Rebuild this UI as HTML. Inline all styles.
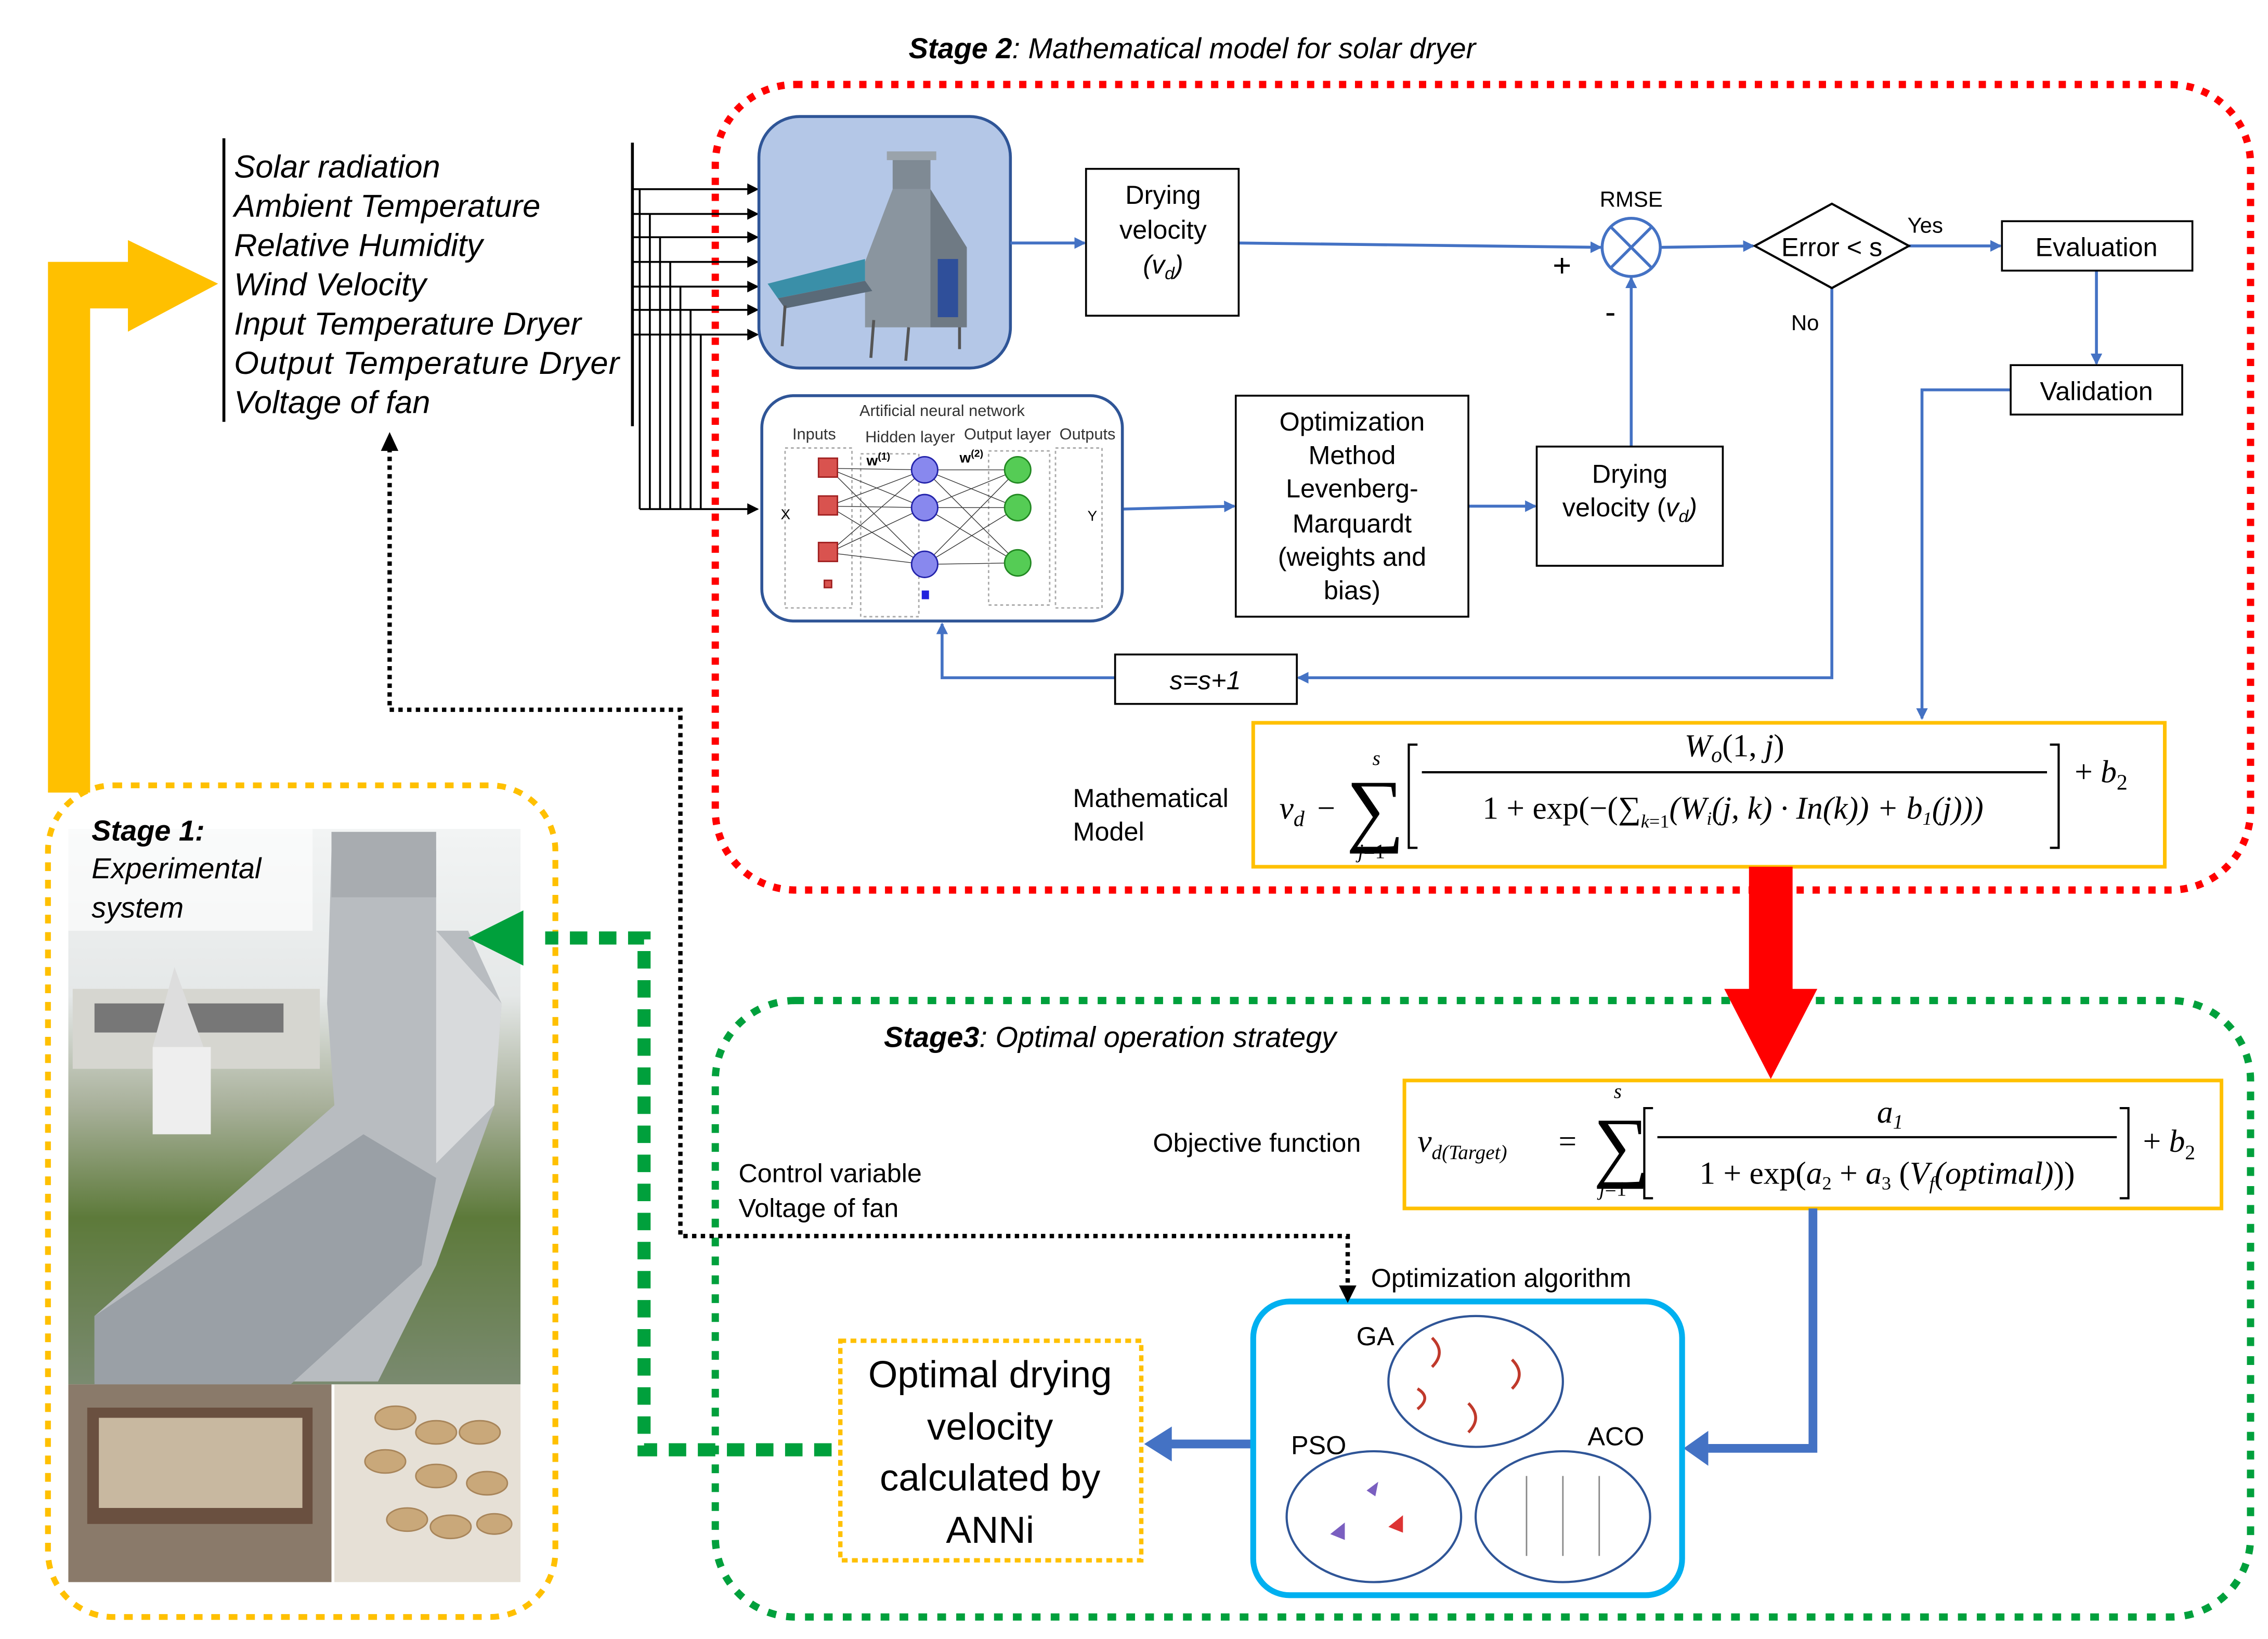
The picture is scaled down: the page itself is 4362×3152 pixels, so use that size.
<!DOCTYPE html>
<html><head><meta charset="utf-8"><style>html,body{margin:0;padding:0;background:#fff}svg{display:block}</style></head><body>
<svg width="4362" height="3152" viewBox="0 0 1560 1127" xmlns="http://www.w3.org/2000/svg" font-family="Liberation Sans, sans-serif">
<defs>
<marker id="ab" markerWidth="8" markerHeight="8" refX="7" refY="4" orient="auto" markerUnits="userSpaceOnUse"><path d="M0,0 L8,4 L0,8 z" fill="#4472c4"/></marker>
<marker id="ak" markerWidth="8" markerHeight="8" refX="7" refY="4" orient="auto" markerUnits="userSpaceOnUse"><path d="M0,0 L8,4 L0,8 z" fill="#000"/></marker>
<linearGradient id="sky" x1="0" y1="0" x2="0" y2="1"><stop offset="0" stop-color="#f2f4f4"/><stop offset="0.3" stop-color="#e5e8e8"/><stop offset="0.5" stop-color="#a8b09a"/><stop offset="0.7" stop-color="#5d7a3a"/><stop offset="1" stop-color="#7a8a70"/></linearGradient>
</defs>
<text x="625" y="40" font-size="20" font-style="italic"><tspan font-weight="bold">Stage 2</tspan>: Mathematical model for solar dryer</text>
<rect x="492" y="58" width="1056" height="554" rx="55" fill="none" stroke="#f00" stroke-width="5" stroke-dasharray="5,6"/>
<rect x="492" y="688" width="1056" height="424" rx="55" fill="none" stroke="#00a03c" stroke-width="5" stroke-dasharray="6,7"/>
<rect x="33" y="540" width="349" height="572" rx="45" fill="none" stroke="#ffc000" stroke-width="4" stroke-dasharray="6,6"/>
<path d="M33,545 L33,180 L88,180 L88,165 L150,195 L88,228 L88,212 L62,212 L62,545 z" fill="#ffc000"/>
<line x1="154" y1="95" x2="154" y2="290" stroke="#000" stroke-width="2"/>
<line x1="435" y1="98" x2="435" y2="293" stroke="#000" stroke-width="2"/>
<g font-size="22" font-style="italic">
<text x="161" y="122">Solar radiation</text>
<text x="161" y="149">Ambient Temperature</text>
<text x="161" y="176">Relative Humidity</text>
<text x="161" y="203">Wind Velocity</text>
<text x="161" y="230">Input Temperature Dryer</text>
<text x="161" y="257" textLength="265">Output Temperature Dryer</text>
<text x="161" y="284">Voltage of fan</text>
</g>
<g stroke="#000" stroke-width="1.3" fill="none">
<line x1="435" y1="130" x2="521" y2="130" marker-end="url(#ak)"/>
<line x1="435" y1="147" x2="521" y2="147" marker-end="url(#ak)"/>
<line x1="435" y1="163" x2="521" y2="163" marker-end="url(#ak)"/>
<line x1="435" y1="180" x2="521" y2="180" marker-end="url(#ak)"/>
<line x1="435" y1="197" x2="521" y2="197" marker-end="url(#ak)"/>
<line x1="435" y1="213" x2="521" y2="213" marker-end="url(#ak)"/>
<line x1="435" y1="230" x2="521" y2="230" marker-end="url(#ak)"/>
<path d="M440,130 V350 M447,147 V350 M454,163 V350 M461,180 V350 M468,197 V350 M475,213 V350 M482,230 V350"/>
<line x1="440" y1="350" x2="521" y2="350" marker-end="url(#ak)"/>
</g>
<rect x="522" y="80" width="173" height="173" rx="28" fill="#b4c7e7" stroke="#2f5597" stroke-width="2"/>
<g>
<rect x="614" y="108" width="26" height="22" fill="#7f8a94"/>
<rect x="610" y="104" width="34" height="6" fill="#9aa3ab"/>
<path d="M595,180 L614,130 L640,130 L665,170 L665,225 L595,225 z" fill="#8a959f"/>
<path d="M640,130 L665,170 L665,225 L640,225 z" fill="#6f7a84"/>
<rect x="645" y="178" width="14" height="40" fill="#2f4f9a"/>
<path d="M528,195 L595,178 L595,193 L535,205 z" fill="#3a8fa8"/>
<path d="M535,205 L595,193 L600,200 L540,212 z" fill="#5a6a78"/>
<line x1="540" y1="210" x2="538" y2="238" stroke="#555" stroke-width="2"/>
<line x1="601" y1="220" x2="599" y2="246" stroke="#555" stroke-width="2"/>
<line x1="625" y1="225" x2="623" y2="248" stroke="#555" stroke-width="2"/>
<line x1="660" y1="225" x2="660" y2="240" stroke="#555" stroke-width="2"/>
</g>
<g stroke="#4472c4" stroke-width="2" fill="none">
<line x1="695" y1="167" x2="746" y2="167" marker-end="url(#ab)"/>
<line x1="852" y1="167" x2="1101" y2="170" marker-end="url(#ab)"/>
<line x1="1142" y1="170" x2="1206" y2="169" marker-end="url(#ab)"/>
<line x1="1313" y1="169" x2="1376" y2="169" marker-end="url(#ab)"/>
<line x1="1442" y1="186" x2="1442" y2="250" marker-end="url(#ab)"/>
<path d="M1383,268 H1322 V494" marker-end="url(#ab)"/>
<path d="M1260,198 V466 H893" marker-end="url(#ab)"/>
<path d="M767,466 H648 V429" marker-end="url(#ab)"/>
<line x1="772" y1="350" x2="849" y2="348" marker-end="url(#ab)"/>
<line x1="1010" y1="348" x2="1056" y2="348" marker-end="url(#ab)"/>
<line x1="1122" y1="307" x2="1122" y2="191" marker-end="url(#ab)"/>
</g>
<rect x="747" y="116" width="105" height="101" fill="#fff" stroke="#000" stroke-width="1.3"/>
<g font-size="18" text-anchor="middle">
<text x="800" y="140">Drying</text><text x="800" y="164">velocity</text><text x="800" y="188" font-style="italic">(v<tspan font-size="12" dy="4">d</tspan><tspan dy="-4">)</tspan></text>
</g>
<circle cx="1122" cy="170" r="20" fill="#fff" stroke="#4472c4" stroke-width="2"/>
<path d="M1108,156 L1136,184 M1136,156 L1108,184" stroke="#4472c4" stroke-width="2"/>
<text x="1122" y="142" font-size="15" text-anchor="middle">RMSE</text>
<text x="1068" y="190" font-size="22">+</text>
<text x="1104" y="222" font-size="22">-</text>
<polygon points="1260,140 1313,169 1260,198 1207,169" fill="#fff" stroke="#000" stroke-width="1.5"/>
<text x="1260" y="176" font-size="18" text-anchor="middle">Error &lt; s</text>
<text x="1312" y="160" font-size="15">Yes</text>
<text x="1232" y="227" font-size="15">No</text>
<rect x="1377" y="152" width="131" height="34" fill="#fff" stroke="#000" stroke-width="1.3"/>
<text x="1442" y="176" font-size="18" text-anchor="middle">Evaluation</text>
<rect x="1383" y="251" width="118" height="34" fill="#fff" stroke="#000" stroke-width="1.3"/>
<text x="1442" y="275" font-size="18" text-anchor="middle">Validation</text>
<rect x="524" y="272" width="248" height="155" rx="22" fill="#fff" stroke="#2f5597" stroke-width="2"/>
<text x="648" y="286" font-size="11" text-anchor="middle" fill="#333">Artificial neural network</text>
<g font-size="11" fill="#333" text-anchor="middle"><text x="560" y="302">Inputs</text><text x="626" y="304">Hidden layer</text><text x="693" y="302">Output layer</text><text x="748" y="302">Outputs</text></g>
<g stroke="#aaa" stroke-dasharray="2,2" fill="none"><rect x="540" y="308" width="46" height="110"/><rect x="592" y="312" width="40" height="112"/><rect x="680" y="310" width="42" height="106"/><rect x="726" y="308" width="32" height="110"/></g>
<g stroke="#333" stroke-width="0.5">
<path d="M570,322 L636,323 M570,322 L636,349 M570,322 L636,388 M570,348 L636,323 M570,348 L636,349 M570,348 L636,388 M570,380 L636,323 M570,380 L636,349 M570,380 L636,388 M636,323 L700,323 M636,323 L700,349 M636,323 L700,387 M636,349 L700,323 M636,349 L700,349 M636,349 L700,387 M636,388 L700,323 M636,388 L700,349 M636,388 L700,387"/>
</g>
<g fill="#d9534f" stroke="#a02020"><rect x="563" y="315" width="13" height="13"/><rect x="563" y="341" width="13" height="13"/><rect x="563" y="373" width="13" height="13"/><rect x="567" y="399" width="5" height="5"/></g>
<g fill="#8888ee" stroke="#2222aa"><circle cx="636" cy="323" r="9"/><circle cx="636" cy="349" r="9"/><circle cx="636" cy="388" r="9"/></g>
<rect x="634" y="406" width="5" height="6" fill="#2222dd"/>
<g fill="#55cc55" stroke="#228822"><circle cx="700" cy="323" r="9"/><circle cx="700" cy="349" r="9"/><circle cx="700" cy="387" r="9"/></g>
<text x="537" y="357" font-size="10">X</text><text x="748" y="358" font-size="10">Y</text>
<text x="596" y="320" font-size="10" font-weight="bold">w<tspan font-size="7" dy="-4">(1)</tspan></text>
<text x="660" y="318" font-size="10" font-weight="bold">w<tspan font-size="7" dy="-4">(2)</tspan></text>
<rect x="850" y="272" width="160" height="152" fill="#fff" stroke="#000" stroke-width="1.3"/>
<g font-size="18" text-anchor="middle"><text x="930" y="296">Optimization</text><text x="930" y="319">Method</text><text x="930" y="342">Levenberg-</text><text x="930" y="366">Marquardt</text><text x="930" y="389">(weights and</text><text x="930" y="412">bias)</text></g>
<rect x="1057" y="307" width="128" height="82" fill="#fff" stroke="#000" stroke-width="1.3"/>
<g font-size="18" text-anchor="middle"><text x="1121" y="332">Drying</text><text x="1121" y="355">velocity (<tspan font-style="italic">v<tspan font-size="12" dy="4">d</tspan><tspan dy="-4">)</tspan></tspan></text></g>
<rect x="767" y="450" width="125" height="34" fill="#fff" stroke="#000" stroke-width="1.3"/>
<text x="829" y="474" font-size="18" font-style="italic" text-anchor="middle">s=s+1</text>
<text x="738" y="555" font-size="18">Mathematical</text><text x="738" y="578" font-size="18">Model</text>
<rect x="862" y="497" width="627" height="99" fill="#fff" stroke="#ffc000" stroke-width="2.5"/>
<g font-family="Liberation Serif, serif" font-size="22">
<text x="880" y="563" font-style="italic">v<tspan font-size="15" dy="5">d</tspan></text>
<text x="906" y="563">−</text>
<text x="926" y="575" font-size="56">∑</text>
<text x="944" y="526" font-size="14" font-style="italic">s</text>
<text x="934" y="590" font-size="14"><tspan font-style="italic">j</tspan>=1</text>
<path d="M975,512 H969 V583 H975 M1410,512 H1416 V583 H1410" fill="none" stroke="#000" stroke-width="1.5"/>
<line x1="978" y1="531" x2="1408" y2="531" stroke="#000" stroke-width="1.5"/>
<text x="1193" y="520" text-anchor="middle" font-style="italic">W<tspan font-size="15" dy="4">o</tspan><tspan dy="-4" font-style="normal">(1, </tspan>j<tspan font-style="normal">)</tspan></text>
<text x="1192" y="563" text-anchor="middle" font-size="22">1 + exp(−(∑<tspan font-size="13" font-style="italic" dy="6">k</tspan><tspan font-size="13">=1</tspan><tspan dy="-6" font-style="italic">(W<tspan font-size="13" dy="4">i</tspan><tspan dy="-4">(j, k) · In(k)) + b</tspan><tspan font-size="13" dy="4">1</tspan><tspan dy="-4">(j)))</tspan></tspan></text>
<text x="1427" y="538">+ <tspan font-style="italic">b</tspan><tspan font-size="15" dy="5">2</tspan></text>
</g>
<path d="M1203,596 H1233 V680 H1250 L1218,742 L1186,680 H1203 z" fill="#f00"/>
<text x="608" y="720" font-size="20" font-style="italic"><tspan font-weight="bold">Stage3</tspan>: Optimal operation strategy</text>
<text x="793" y="792" font-size="18">Objective function</text>
<rect x="966" y="743" width="562" height="88" fill="#fff" stroke="#ffc000" stroke-width="2.5"/>
<g font-family="Liberation Serif, serif" font-size="22">
<text x="975" y="792" font-style="italic">v<tspan font-size="14" dy="5">d(Target)</tspan></text>
<text x="1072" y="792">=</text>
<text x="1096" y="806" font-size="54">∑</text>
<text x="1110" y="755" font-size="14" font-style="italic">s</text>
<text x="1100" y="822" font-size="14"><tspan font-style="italic">j</tspan>=1</text>
<path d="M1137,762 H1131 V824 H1137 M1458,762 H1464 V824 H1458" fill="none" stroke="#000" stroke-width="1.5"/>
<line x1="1140" y1="782" x2="1456" y2="782" stroke="#000" stroke-width="1.5"/>
<text x="1300" y="772" text-anchor="middle" font-style="italic">a<tspan font-size="14" dy="4">1</tspan></text>
<text x="1298" y="814" text-anchor="middle" font-size="22">1 + exp(<tspan font-style="italic">a</tspan><tspan font-size="13" dy="4">2</tspan><tspan dy="-4"> + </tspan><tspan font-style="italic">a</tspan><tspan font-size="13" dy="4">3</tspan><tspan dy="-4"> (</tspan><tspan font-style="italic">V</tspan><tspan font-size="13" dy="4" font-style="italic">f</tspan><tspan dy="-4" font-style="italic">(optimal)</tspan>))</text>
<text x="1474" y="792">+ <tspan font-style="italic">b</tspan><tspan font-size="14" dy="5">2</tspan></text>
</g>
<path d="M1247,831 V996 H1175" fill="none" stroke="#4472c4" stroke-width="6"/>
<polygon points="1175,984 1158,996 1175,1008" fill="#4472c4"/>
<line x1="862" y1="993" x2="805" y2="993" stroke="#4472c4" stroke-width="6"/>
<polygon points="806,981 787,993 806,1005" fill="#4472c4"/>
<text x="943" y="885" font-size="18">Optimization algorithm</text>
<rect x="862" y="895" width="295" height="202" rx="25" fill="#fff" stroke="#00b0f0" stroke-width="4"/>
<ellipse cx="1015" cy="950" rx="60" ry="45" fill="#fff" stroke="#2f5597" stroke-width="1.5"/>
<ellipse cx="945" cy="1043" rx="60" ry="45" fill="#fff" stroke="#2f5597" stroke-width="1.5"/>
<ellipse cx="1075" cy="1043" rx="60" ry="45" fill="#fff" stroke="#2f5597" stroke-width="1.5"/>
<g stroke="#c0392b" stroke-width="2" fill="none"><path d="M985,920 q10,10 0,20 M1040,935 q10,10 0,20 M1010,965 q10,10 0,20 M975,955 q10,6 0,14"/></g>
<g fill="#7a5fc0"><path d="M940,1025 l8,-6 l-2,10 z M915,1055 l10,-8 l0,12 z"/></g>
<path d="M955,1050 l10,-8 l0,12 z" fill="#d33"/>
<g stroke="#888" fill="none"><path d="M1050,1015 v55 M1075,1015 v55 M1100,1015 v55"/></g>
<text x="933" y="925" font-size="18">GA</text>
<text x="888" y="1000" font-size="18">PSO</text>
<text x="1092" y="994" font-size="18">ACO</text>
<rect x="578" y="922" width="207" height="151" fill="#fff" stroke="#ffc000" stroke-width="3" stroke-dasharray="4,3"/>
<g font-size="26" text-anchor="middle"><text x="681" y="954">Optimal drying</text><text x="681" y="990">velocity</text><text x="681" y="1025">calculated by</text><text x="681" y="1061">ANNi</text></g>
<path d="M572,997 H443 V645 H375" fill="none" stroke="#00a03c" stroke-width="9" stroke-dasharray="12,8"/>
<path d="M268,308 V488 H468 V850 H927 V885" fill="none" stroke="#000" stroke-width="3" stroke-dasharray="3,3"/>
<polygon points="262,310 268,297 274,310" fill="#000"/>
<polygon points="921,884 927,896 933,884" fill="#000"/>
<text x="508" y="813" font-size="18">Control variable</text><text x="508" y="837" font-size="18">Voltage of fan</text>
<rect x="47" y="570" width="311" height="382" fill="url(#sky)"/>
<rect x="50" y="680" width="170" height="55" fill="#d6d6d0"/>
<rect x="65" y="690" width="130" height="20" fill="#777"/>
<path d="M105,720 L120,665 L140,720 z" fill="#ddd"/>
<rect x="105" y="720" width="40" height="60" fill="#eee"/>
<path d="M228,585 H300 V640 H322 L345,690 L340 760 L300,870 L260,950 H65 V905 L230,760 L225,690 z" fill="#b8bcc0"/>
<rect x="228" y="572" width="72" height="45" fill="#a8acb0"/>
<path d="M65,905 L250,780 L300,810 L290,870 L200,952 H65 z" fill="#9aa0a6"/>
<path d="M300,640 L345,690 L340,760 L300,800 z" fill="#d8dadc"/>
<rect x="47" y="952" width="181" height="136" fill="#8a7a6a"/>
<rect x="60" y="968" width="155" height="80" fill="#6a5040"/>
<rect x="68" y="975" width="140" height="62" fill="#c8b8a0"/>
<rect x="230" y="952" width="128" height="136" fill="#e6e0d6"/>
<g fill="#c9a87a" stroke="#a8855a"><ellipse cx="272" cy="975" rx="14" ry="8"/><ellipse cx="300" cy="985" rx="14" ry="8"/><ellipse cx="330" cy="985" rx="14" ry="8"/><ellipse cx="265" cy="1005" rx="14" ry="8"/><ellipse cx="300" cy="1015" rx="14" ry="8"/><ellipse cx="335" cy="1020" rx="14" ry="8"/><ellipse cx="280" cy="1045" rx="14" ry="8"/><ellipse cx="310" cy="1050" rx="14" ry="8"/><ellipse cx="340" cy="1048" rx="12" ry="7"/></g>
<polygon points="360,626 322,645 360,664" fill="#00a03c"/>
<rect x="45" y="555" width="170" height="85" fill="#fff" opacity="0.6"/>
<g font-size="20" font-style="italic"><text x="63" y="578" font-weight="bold">Stage 1:</text><text x="63" y="604">Experimental</text><text x="63" y="631">system</text></g>
</svg>
</body></html>
